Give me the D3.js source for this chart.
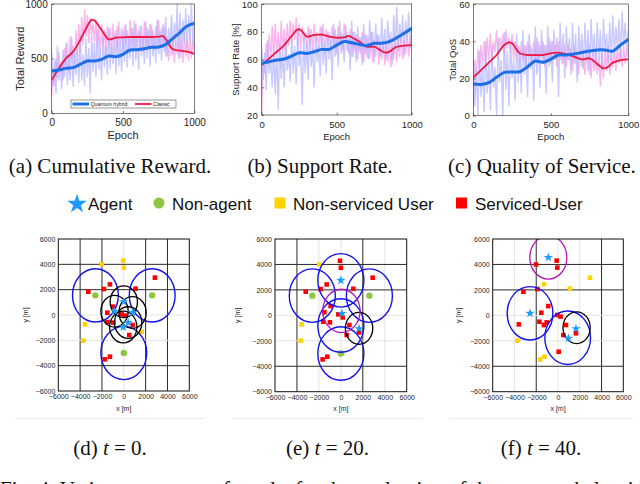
<!DOCTYPE html>
<html>
<head>
<meta charset="utf-8">
<title>Fig. 4</title>
<style>
  body { margin: 0; background: #fff; }
  svg { font-family: "Liberation Sans", Arial, sans-serif; }
</style>
</head>
<body>
<svg id="lienzo" width="640" height="484"></svg>
<script src="https://cdn.jsdelivr.net/npm/d3@7/dist/d3.min.js"></script>
<script>
// ---------- training curves (epoch axis) ----------
const noiseEpochs = d3.range(0, 1001, 10) // raw traces are read every 10 epochs
const epochs50 = [0, 50, 100, 150, 200, 250, 300, 350, 400, 450, 500, 550, 600, 650, 700, 750, 800, 850, 900, 950, 1000]

// (a) total reward
const rewardQ = [387, 396, 411, 418, 448, 479, 479, 494, 524, 518, 540, 579, 582, 591, 604, 607, 631, 686, 741, 799, 823]
const rewardCEpochs = [0, 50, 100, 150, 200, 250, 280, 300, 350, 400, 450, 500, 550, 600, 650, 700, 750, 780, 800, 850, 900, 950, 1000]
const rewardC = [305, 411, 503, 564, 671, 799, 854, 848, 762, 677, 692, 695, 698, 698, 698, 698, 701, 707, 677, 585, 573, 564, 543]
const nzRewardQ = [
  560, 250, 480, 180, 620, 300, 450, 220, 580, 330,
  640, 260, 520, 300, 700, 240, 560, 350, 610, 280,
  720, 300, 540, 250, 680, 330, 600, 180, 720, 380,
  650, 330, 760, 400, 580, 300, 700, 420, 620, 350,
  780, 400, 640, 450, 720, 360, 800, 430, 660, 380,
  760, 470, 820, 420, 700, 500, 780, 430, 850, 480,
  720, 400, 800, 520, 690, 450, 840, 500, 760, 430,
  810, 520, 700, 460, 860, 540, 750, 480, 820, 560,
  880, 520, 780, 600, 900, 540, 830, 620, 1000, 500,
  920, 580, 860, 650, 960, 600, 900, 680, 1000, 620, 850]
const nzRewardC = [
  150, 420, 250, 500, 320, 560, 380, 480, 300, 600,
  420, 650, 380, 700, 480, 620, 450, 760, 520, 820,
  560, 880, 620, 950, 700, 900, 640, 880, 720, 820,
  650, 860, 600, 780, 560, 820, 620, 760, 540, 800,
  600, 780, 560, 820, 640, 760, 580, 840, 620, 780,
  560, 800, 640, 760, 600, 850, 620, 780, 580, 820,
  640, 760, 600, 800, 560, 840, 620, 780, 600, 820,
  640, 760, 580, 800, 620, 850, 600, 780, 640, 800,
  520, 700, 480, 680, 520, 720, 460, 660, 540, 780,
  500, 700, 460, 740, 520, 680, 480, 720, 500, 660, 560]

// (b) support rate [%]
const supportQ = [57.2, 58.4, 59.6, 60.4, 62.5, 64.9, 64.4, 65.6, 67.3, 67.3, 70.4, 72.9, 72.1, 70.9, 70, 71.7, 71.7, 72.9, 75.7, 78.9, 82.5]
const supportCEpochs = [0, 50, 100, 150, 200, 240, 260, 300, 350, 400, 450, 500, 550, 580, 600, 650, 700, 750, 800, 830, 850, 900, 950, 1000]
const supportC = [56, 60.8, 65.6, 70.4, 77, 81.7, 81.3, 76.5, 77.7, 77.9, 76.5, 75.7, 76, 77, 76, 72.9, 69.2, 69.2, 66.1, 64.9, 65.6, 69.2, 70, 70.4]
const nzSupportQ = [
  70, 45, 65, 38, 74, 50, 62, 40, 70, 35,
  68, 24, 72, 46, 66, 40, 75, 52, 64, 44,
  78, 50, 70, 42, 80, 55, 68, 27, 76, 50,
  72, 45, 82, 55, 68, 40, 78, 58, 70, 48,
  84, 56, 72, 50, 80, 60, 74, 45, 86, 62,
  76, 55, 88, 64, 78, 58, 85, 66, 76, 52,
  88, 62, 80, 58, 84, 66, 76, 56, 86, 64,
  78, 60, 88, 66, 80, 58, 86, 68, 78, 62,
  90, 64, 82, 60, 88, 70, 80, 56, 92, 68,
  98, 66, 86, 72, 92, 62, 88, 74, 94, 68, 84]
const nzSupportC = [
  20, 60, 50, 72, 55, 78, 60, 84, 62, 86,
  64, 80, 58, 88, 66, 82, 62, 86, 70, 88,
  72, 86, 74, 90, 70, 86, 68, 84, 72, 80,
  66, 84, 70, 82, 64, 86, 72, 80, 66, 84,
  70, 86, 64, 82, 72, 80, 66, 84, 70, 82,
  64, 84, 70, 80, 66, 86, 72, 80, 64, 82,
  62, 80, 66, 78, 60, 76, 64, 80, 58, 78,
  62, 76, 60, 80, 58, 74, 62, 78, 56, 72,
  60, 74, 56, 72, 58, 76, 54, 70, 60, 78,
  58, 76, 62, 80, 60, 74, 64, 78, 62, 76, 70]

// (c) total QoS
const qosQ = [17, 16.8, 17.7, 20.6, 23.3, 23.5, 23.6, 26.3, 29.4, 28.7, 30.4, 32.6, 32.6, 33.1, 34, 34.7, 35.3, 35.3, 34.7, 38, 41]
const qosCEpochs = [0, 50, 100, 150, 200, 230, 250, 300, 350, 400, 450, 500, 550, 600, 650, 700, 750, 800, 840, 870, 900, 950, 1000]
const qosC = [20.6, 24.5, 28.5, 32.6, 38, 39.4, 38.9, 33.5, 32.6, 32.6, 32.6, 33.5, 33.9, 33.1, 31.7, 30.3, 30.8, 27.8, 25.4, 26.3, 28.5, 29.9, 30.3]
const nzQosQ = [
  30, 5, 25, 0, 35, 10, 28, 2, 40, 12,
  30, 3, 38, 15, 26, 0, 42, 18, 30, 0,
  45, 14, 35, 5, 40, 20, 30, 8, 44, 18,
  35, 12, 46, 22, 38, 10, 44, 25, 36, 8,
  48, 22, 40, 15, 46, 28, 38, 12, 48, 26,
  40, 18, 46, 30, 42, 10, 50, 28, 44, 20,
  48, 30, 42, 22, 50, 28, 44, 18, 48, 32,
  44, 25, 50, 30, 46, 22, 52, 32, 44, 26,
  50, 30, 46, 24, 52, 34, 44, 28, 50, 30,
  54, 32, 48, 36, 52, 30, 56, 38, 50, 34, 46]
const nzQosC = [
  5, 30, 20, 36, 24, 38, 28, 40, 26, 42,
  30, 44, 28, 40, 34, 46, 30, 42, 36, 44,
  32, 46, 36, 42, 34, 44, 30, 40, 32, 38,
  28, 40, 30, 38, 26, 40, 32, 38, 28, 40,
  30, 42, 28, 38, 32, 40, 26, 38, 30, 42,
  28, 40, 32, 38, 26, 40, 30, 36, 28, 38,
  26, 38, 30, 36, 24, 38, 28, 34, 22, 36,
  26, 34, 22, 36, 24, 38, 20, 34, 24, 36,
  22, 32, 16, 34, 20, 36, 24, 38, 22, 34,
  26, 36, 24, 38, 28, 36, 26, 38, 28, 36, 30]

const epochTicks = [0, 500, 1000]
const rewardTicks = [0, 500, 1000]
const supportTicks = [20, 40, 60, 80, 100]
const qosTicks = [0, 20, 40, 60]

// ---------- positions snapshots [x, y] in metres ----------
const posTicks = [-6000, -4000, -2000, 0, 2000, 4000, 6000]
const blueRadius = 2100   // coverage radius of the big (blue) cells
const blackRadius = 1250
const magentaRadius = 1700

// t = 0
const red0 = [[2850, 2950], [-3250, 1840], [-1820, 2050], [-1270, 2420], [1080, 2080], [-960, 660], [-1510, 180], [-200, 50], [100, -50], [-1500, -550], [-960, -600], [810, -790], [500, -1580], [-1270, -3290], [-1730, -3500]]
const yellow0 = [[-50, 4290], [0, 3740], [-2030, 4000], [-3560, -740], [-3700, -2030], [1630, -1320]]
const green0 = [[-2600, 1550], [2600, 1550], [0, -3000]]
const stars0 = [[0, 1050], [-850, 300], [800, 200], [-50, -950], [400, -600]]
const blueRings0 = [[-2600, 1550], [2600, 1550], [0, -3000]]
const blackRings0 = [[0, 1050], [-850, 300], [800, 200], [-50, -950], [400, -600]]
const magentaRings0 = []

// t = 20
const red20 = [[-80, 4290], [0, 3740], [2900, 2960], [-1290, 2430], [-1840, 2070], [-3200, 1860], [1140, 2090], [-930, 730], [-1500, 240], [-230, 80], [170, -160], [-1600, -500], [-1000, -550], [780, -760], [530, -1550], [1660, -1340], [-1230, -3250], [-1660, -3460]]
const yellow20 = [[-1960, 4000], [-3570, -710], [-3660, -1990]]
const green20 = [[-2600, 1550], [2600, 1550], [0, -3000]]
const stars20 = [[0, 2750], [100, 150], [1660, -1050]]
const blueRings20 = [[-2600, 1550], [2600, 1550], [0, -3000], [0, 2750], [0, -800]]
const blackRings20 = [[1660, -1020]]
const magentaRings20 = [[50, 350]]

// t = 40
const red40 = [[-120, 4300], [-60, 3750], [-2020, 4000], [-3180, 1860], [-1900, 2070], [-890, 730], [-1530, 210], [-60, 30], [240, -100], [-1710, -500], [-1040, -550], [-1290, -760], [730, -760], [490, -1550], [1650, -1410], [60, -2860], [-3600, -710]]
const yellow40 = [[2940, 2960], [-1290, 2440], [1100, 2100], [-3730, -1990], [-1650, -3460], [-1250, -3250]]
const green40 = []
const stars40 = [[-890, 4550], [-2570, 160], [950, -1800], [1650, -1050]]
const blueRings40 = [[-2570, 160], [890, -1760]]
const blackRings40 = [[1710, -970]]
const magentaRings40 = [[-890, 4550]]

const legendLabels = ["Agent", "Non-agent", "Non-serviced User", "Serviced-User"]
const lineLegendLabels = ["Quantum hybrid", "Classic"]

// ---------- drawing ----------
const svg = d3.select("#lienzo")
svg.append("rect").attr("width", 640).attr("height", 484).attr("fill", "#fff")

const axisColor = "#262626"
const sans = "'Liberation Sans', Arial, sans-serif"
const serif = "'Liberation Serif', 'Times New Roman', serif"
const colQ = "#1c6fe6", colC = "#f2173f"
const intFmt = d3.format("d")

const topPanels = [
  { x0: 51.7, x1: 194.3, y0: 4, y1: 113.3, yDomain: [0, 1000], yTicks: rewardTicks, label: "Total Reward",
    nzQ: nzRewardQ, nzC: nzRewardC, q: rewardQ, cx: rewardCEpochs, c: rewardC,
    tickFont: 10, labFont: 11, xPad: 6, yPad: 4, labX: 20.7, epochY: 139, legend: true },
  { x0: 261.7, x1: 411.7, y0: 4, y1: 115, yDomain: [20, 100], yTicks: supportTicks, label: "Support Rate [%]",
    nzQ: nzSupportQ, nzC: nzSupportC, q: supportQ, cx: supportCEpochs, c: supportC,
    tickFont: 9.5, labFont: 9.5, xPad: 6, yPad: 4, labX: 236, epochY: 139.5 },
  { x0: 473.3, x1: 628.3, y0: 4, y1: 115.7, yDomain: [0, 60], yTicks: qosTicks, label: "Total QoS",
    nzQ: nzQosQ, nzC: nzQosC, q: qosQ, cx: qosCEpochs, c: qosC,
    tickFont: 9.5, labFont: 9.5, xPad: 5.5, yPad: 3.5, labX: 453, epochY: 139.5 }
]

function styleAxis(a, font) {
  a.select(".domain").remove()
  a.selectAll("line").attr("stroke", axisColor).attr("stroke-width", 0.6)
  a.selectAll("text").attr("font-size", font).attr("fill", axisColor).attr("font-family", sans)
}

function drawLinePanel(p, i) {
  const g = svg.append("g")
  const x = d3.scaleLinear().domain([0, 1000]).range([p.x0, p.x1])
  const y = d3.scaleLinear().domain(p.yDomain).range([p.y1, p.y0])

  svg.append("clipPath").attr("id", "clipTop" + i).append("rect")
    .attr("x", p.x0).attr("y", p.y0).attr("width", p.x1 - p.x0).attr("height", p.y1 - p.y0)
  const plot = g.append("g").attr("clip-path", `url(#clipTop${i})`)

  const noiseLine = d3.line().x((d, j) => x(noiseEpochs[j])).y(d => y(d))
  plot.append("path").attr("d", noiseLine(p.nzC)).attr("fill", "none")
    .attr("stroke", "#ffb4ec").attr("stroke-width", 1.4)
  plot.append("path").attr("d", noiseLine(p.nzQ)).attr("fill", "none")
    .attr("stroke", "#b2b4ff").attr("stroke-opacity", 0.72).attr("stroke-width", 1.4)

  const smooth = d3.line().curve(d3.curveCatmullRom).x(d => x(d[0])).y(d => y(d[1]))
  plot.append("path").attr("d", smooth(d3.zip(p.cx, p.c))).attr("fill", "none")
    .attr("stroke", colC).attr("stroke-width", 1.8)
  plot.append("path").attr("d", smooth(d3.zip(epochs50, p.q))).attr("fill", "none")
    .attr("stroke", colQ).attr("stroke-width", 3)

  g.append("g").attr("transform", `translate(0,${p.y1})`)
    .call(d3.axisBottom(x).tickValues(epochTicks).tickFormat(intFmt).tickSizeInner(-2.5).tickSizeOuter(0).tickPadding(p.xPad))
    .call(a => styleAxis(a, p.tickFont))
  g.append("g").attr("transform", `translate(${p.x0},0)`)
    .call(d3.axisLeft(y).tickValues(p.yTicks).tickFormat(intFmt).tickSizeInner(-2.5).tickSizeOuter(0).tickPadding(p.yPad))
    .call(a => styleAxis(a, p.tickFont))

  g.append("rect").attr("x", p.x0).attr("y", p.y0).attr("width", p.x1 - p.x0).attr("height", p.y1 - p.y0)
    .attr("fill", "none").attr("stroke", axisColor).attr("stroke-width", 0.6)

  g.append("text").attr("x", (p.x0 + p.x1) / 2).attr("y", p.epochY).attr("text-anchor", "middle")
    .attr("font-size", p.labFont).attr("fill", axisColor).text("Epoch")
  g.append("text").attr("transform", `translate(${p.labX},${(p.y0 + p.y1) / 2}) rotate(-90)`)
    .attr("text-anchor", "middle").attr("dominant-baseline", "middle")
    .attr("font-size", p.labFont).attr("fill", axisColor).text(p.label)

  if (p.legend) {
    const lg = g.append("g")
    lg.append("rect").attr("x", 71).attr("y", 100).attr("width", 105).attr("height", 8)
      .attr("fill", "#fff").attr("stroke", "#333").attr("stroke-width", 0.5)
    const items = [[72.5, colQ, 3], [135, colC, 1.8]]
    items.forEach((it, k) => {
      lg.append("line").attr("x1", it[0]).attr("x2", it[0] + 16.5).attr("y1", 104).attr("y2", 104)
        .attr("stroke", it[1]).attr("stroke-width", it[2])
      lg.append("text").attr("x", it[0] + 18).attr("y", 105.8).attr("font-size", 5.2)
        .attr("fill", "#222").text(lineLegendLabels[k])
    })
  }
}
topPanels.forEach(drawLinePanel)

// captions of the top row
const topCaptions = [["(a) Cumulative Reward.", 110], ["(b) Support Rate.", 320], ["(c) Quality of Service.", 542]]
topCaptions.forEach(c => {
  svg.append("text").attr("x", c[1]).attr("y", 173).attr("text-anchor", "middle")
    .attr("font-family", serif).attr("font-size", 21).attr("fill", "#111").text(c[0])
})

// shared legend of the position maps
const starSym = d3.symbol().type(d3.symbolStar)
const lgY = 203
const lgRow = svg.append("g")
lgRow.append("path").attr("d", starSym.size(120)()).attr("transform", `translate(77,${lgY + 1})`).attr("fill", "#1e9bff")
lgRow.append("circle").attr("cx", 159).attr("cy", lgY).attr("r", 5.5).attr("fill", "#8dc63f")
lgRow.append("rect").attr("x", 274.5).attr("y", lgY - 5.5).attr("width", 11).attr("height", 11).attr("fill", "#ffd200")
lgRow.append("rect").attr("x", 456).attr("y", lgY - 5.5).attr("width", 11).attr("height", 11).attr("fill", "#f00")
const lgTextX = [88, 172, 293, 475]
legendLabels.forEach((t, k) => {
  lgRow.append("text").attr("x", lgTextX[k]).attr("y", lgY + 6.5).attr("font-size", 17)
    .attr("fill", "#111").text(t)
})

const mapPanels = [
  { x0: 58.3, x1: 189.3, y0: 239, y1: 391, labX: 26, sep: [15, 205], cap: ["(d) ", "t", " = 0."], capX: 110,
    red: red0, yellow: yellow0, green: green0, stars: stars0, blue: blueRings0, black: blackRings0, magenta: magentaRings0,
    darkX: [-4000, -2000, 2000, 4000], darkY: [4000, 2000, -4000] },
  { x0: 275, x1: 406.7, y0: 239, y1: 391.7, labX: 238, sep: [233, 422], cap: ["(e) ", "t", " = 20."], capX: 327.5,
    red: red20, yellow: yellow20, green: green20, stars: stars20, blue: blueRings20, black: blackRings20, magenta: magentaRings20,
    darkX: [-4000, 2000], darkY: [4000, 2000, -4000] },
  { x0: 492.7, x1: 623.3, y0: 239, y1: 391.7, labX: 459, sep: [450, 633], cap: ["(f) ", "t", " = 40."], capX: 541,
    red: red40, yellow: yellow40, green: green40, stars: stars40, blue: blueRings40, black: blackRings40, magenta: magentaRings40,
    darkX: [-2000, 4000], darkY: [4000, 2000, -4000] }
]

function drawMap(p, i) {
  const g = svg.append("g")
  const x = d3.scaleLinear().domain([-6000, 6000]).range([p.x0, p.x1])
  const y = d3.scaleLinear().domain([-6000, 6000]).range([p.y1, p.y0])
  const kx = (p.x1 - p.x0) / 12000, ky = (p.y1 - p.y0) / 12000

  svg.append("clipPath").attr("id", "clipMap" + i).append("rect")
    .attr("x", p.x0).attr("y", p.y0).attr("width", p.x1 - p.x0).attr("height", p.y1 - p.y0)
  const plot = g.append("g").attr("clip-path", `url(#clipMap${i})`)

  const inner = posTicks.slice(1, -1)
  plot.selectAll(".gx").data(inner).enter().append("line")
    .attr("x1", d => x(d)).attr("x2", d => x(d)).attr("y1", p.y0).attr("y2", p.y1)
    .attr("stroke", d => p.darkX.includes(d) ? "#2a2a2a" : "#e4e4e4").attr("stroke-width", 1)
  plot.selectAll(".gy").data(inner).enter().append("line")
    .attr("y1", d => y(d)).attr("y2", d => y(d)).attr("x1", p.x0).attr("x2", p.x1)
    .attr("stroke", d => p.darkY.includes(d) ? "#2a2a2a" : "#e4e4e4").attr("stroke-width", 1)

  const sq = 4.6
  plot.selectAll(".yu").data(p.yellow).enter().append("rect")
    .attr("x", d => x(d[0]) - sq / 2).attr("y", d => y(d[1]) - sq / 2).attr("width", sq).attr("height", sq)
    .attr("fill", "#ffd200")
  plot.selectAll(".ru").data(p.red).enter().append("rect")
    .attr("x", d => x(d[0]) - sq / 2).attr("y", d => y(d[1]) - sq / 2).attr("width", sq).attr("height", sq)
    .attr("fill", "#f00")
  plot.selectAll(".na").data(p.green).enter().append("circle")
    .attr("cx", d => x(d[0])).attr("cy", d => y(d[1])).attr("r", 3.2).attr("fill", "#8dc63f")

  const rings = [[p.blue, blueRadius, "#1414e6", 1.4], [p.black, blackRadius, "#000", 1.3], [p.magenta, magentaRadius, "#b414b4", 1.3]]
  rings.forEach(r => {
    plot.selectAll(null).data(r[0]).enter().append("ellipse")
      .attr("cx", d => x(d[0])).attr("cy", d => y(d[1]))
      .attr("rx", r[1] * kx).attr("ry", r[1] * ky)
      .attr("fill", "none").attr("stroke", r[2]).attr("stroke-width", r[3])
  })
  plot.selectAll(".ag").data(p.stars).enter().append("path")
    .attr("d", starSym.size(28)())
    .attr("transform", d => `translate(${x(d[0])},${y(d[1])})`).attr("fill", "#1e9bff")

  g.append("g").attr("transform", `translate(0,${p.y1})`)
    .call(d3.axisBottom(x).tickValues(posTicks).tickFormat(intFmt).tickSizeInner(0).tickSizeOuter(0).tickPadding(3.5))
    .call(a => styleAxis(a, 7))
  g.append("g").attr("transform", `translate(${p.x0},0)`)
    .call(d3.axisLeft(y).tickValues(posTicks).tickFormat(intFmt).tickSizeInner(0).tickSizeOuter(0).tickPadding(3))
    .call(a => styleAxis(a, 7))
  g.append("rect").attr("x", p.x0).attr("y", p.y0).attr("width", p.x1 - p.x0).attr("height", p.y1 - p.y0)
    .attr("fill", "none").attr("stroke", "#111").attr("stroke-width", 1)

  g.append("text").attr("x", (p.x0 + p.x1) / 2).attr("y", 411).attr("text-anchor", "middle")
    .attr("font-size", 7).attr("fill", axisColor).text("x [m]")
  g.append("text").attr("transform", `translate(${p.labX},${(p.y0 + p.y1) / 2}) rotate(-90)`)
    .attr("text-anchor", "middle").attr("dominant-baseline", "middle")
    .attr("font-size", 7).attr("fill", axisColor).text("y [m]")

  g.append("line").attr("x1", p.sep[0]).attr("x2", p.sep[1]).attr("y1", 418.5).attr("y2", 418.5)
    .attr("stroke", "#ececec").attr("stroke-width", 1)

  const cap = g.append("text").attr("x", p.capX).attr("y", 455).attr("text-anchor", "middle")
    .attr("font-family", serif).attr("font-size", 21).attr("fill", "#111")
  cap.append("tspan").text(p.cap[0])
  cap.append("tspan").attr("font-style", "italic").text(p.cap[1])
  cap.append("tspan").text(p.cap[2])
}
mapPanels.forEach(drawMap)

// figure caption, cut by the bottom edge
svg.append("text").attr("x", 0).attr("y", 495.5).attr("font-family", serif).attr("font-size", 21)
  .attr("fill", "#111").text("Fig. 4: Various measures of results for the evaluation of the proposed algorithm.")
</script>
</body>
</html>
